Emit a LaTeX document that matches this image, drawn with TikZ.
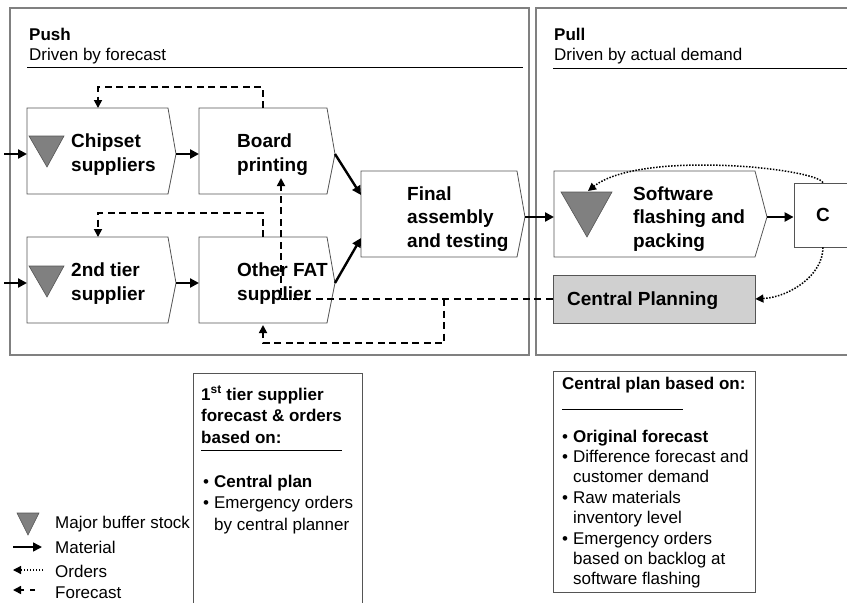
\documentclass[tikz,border=0pt]{standalone}
\usepackage{fontspec}
\setmainfont{Liberation Sans}
\usetikzlibrary{arrows.meta,calc}
\definecolor{framegray}{RGB}{128,128,128}
\definecolor{edgegray}{RGB}{85,85,85}
\definecolor{stockgray}{RGB}{128,128,128}
\definecolor{cpgray}{RGB}{208,208,208}
\newcommand\chevshape[1]{%
  \draw[chev] (#1.north west) -- (#1.north east) -- ($(#1.east)+(8,3)$) coordinate (#1tip)
    -- (#1.south east) -- (#1.south west) -- cycle;}
\begin{document}
\begin{tikzpicture}[x=1pt,y=-1pt,
  frame/.style={draw=framegray,line width=1.4pt},
  body/.style={inner sep=0pt,outer sep=0pt,minimum height=86pt},
  chev/.style={draw=edgegray,line width=0.8pt,fill=white},
  boxtext/.style={anchor=base west,inner sep=0pt,align=left,font=\fontsize{19}{24}\selectfont\bfseries},
  hdr/.style={anchor=base west,inner sep=0pt,font=\fontsize{17}{20}\selectfont\bfseries},
  sub/.style={anchor=base west,inner sep=0pt,font=\fontsize{17}{20}\selectfont},
  rulel/.style={draw=black,line width=1pt},
  note/.style={draw=edgegray,line width=0.9pt},
  stock/.style={draw=edgegray,fill=stockgray,line width=0.6pt},
  mat/.style={line width=2.4pt,-{Triangle[length=9pt,width=9pt]}},
  fc/.style={line width=1.7pt,dash pattern=on 7pt off 4.5pt,-{Triangle[length=8pt,width=8pt]}},
  ord/.style={line width=1.5pt,dash pattern=on 1.5pt off 1.5pt,-{Triangle[length=8pt,width=8pt]}}
]
\useasboundingbox (0,0) rectangle (847,603);
% frames
\draw[frame] (10,8) rectangle (529,355);
\draw[frame] (536,8) rectangle (862,355);
\node[hdr] (pushT) at (29,40) {Push};
\node[sub] (pushS) at (29,60) {Driven by forecast};
\draw[rulel] (27,67) -- (523,67);
\node[hdr] (pullT) at (554,40) {Pull};
\node[sub] (pullS) at (554,60) {Driven by actual demand};
\draw[rulel] (553,68) -- (862,68);
% process boxes
\node[body,minimum width=141pt] (chip) at (97.5,151) {};
\node[body,minimum width=128pt] (board) at (263,151) {};
\node[body,minimum width=141pt] (tier) at (97.5,280) {};
\node[body,minimum width=128pt] (ofat) at (263,280) {};
\node[body,minimum width=156pt] (final) at (439,214) {};
\node[body,minimum width=201pt] (soft) at (654.5,214) {};
\chevshape{chip}
\chevshape{board}
\chevshape{tier}
\chevshape{ofat}
\chevshape{final}
\draw[chev] (soft.north west) -- (soft.north east) -- ($(soft.east)+(12,3)$) coordinate (softtip)
    -- (soft.south east) -- (soft.south west) -- cycle;
\node[draw=edgegray,line width=0.8pt,fill=white,inner sep=0pt,minimum width=58pt,minimum height=64pt,
  font=\fontsize{19}{24}\selectfont\bfseries] (cust) at (823,215) {C};
\node[draw=edgegray,line width=0.8pt,fill=cpgray,inner sep=0pt,minimum width=202pt,minimum height=48pt] (cp) at (654,299) {};
% buffer stock triangles
\draw[stock] (29,136) -- (64,136) -- (47,167) -- cycle;
\draw[stock] (29,266) -- (64,266) -- (47,297) -- cycle;
\draw[stock] (561,192) -- (612,192) -- (587,237) -- cycle;
% box texts (anchor = baseline of last line)
\node[boxtext] (chipT) at (71,171) {Chipset\\suppliers};
\node[boxtext] (boardT) at (237,171) {Board\\printing};
\node[boxtext] (tierT) at (71,300) {2nd tier\\supplier};
\node[boxtext] (ofatT) at (237,300) {Other FAT\\supplier};
\node[boxtext,font=\fontsize{19}{23.5}\selectfont\bfseries] (finalT) at (407,247) {Final\\assembly\\and testing};
\node[boxtext,font=\fontsize{19}{23.5}\selectfont\bfseries] (softT) at (633,247) {Software\\flashing and\\packing};
\node[boxtext] (cpT) at (567,305) {Central Planning};
% material flow
\coordinate (in1) at (4,0);
\coordinate (in2) at (4,0);
\draw[mat] (in1 |- chiptip) -- (chiptip -| chip.west);
\draw[mat] (chiptip) -- (chiptip -| board.west);
\draw[mat] (in2 |- tiertip) -- (tiertip -| tier.west);
\draw[mat] (tiertip) -- (tiertip -| ofat.west);
\draw[mat] (boardtip) -- ($(final.north west)+(0,24)$);
\draw[mat] (ofattip) -- ($(final.south west)+(0,-19)$);
\draw[mat] (finaltip) -- (finaltip -| soft.west);
\draw[mat] (softtip) -- (softtip -| cust.west);
% forecast flow
\draw[fc] (board.north) -- ++(0,-21) -| ($(chip.north west)+(71,0)$);
\draw[fc] (ofat.north) -- ++(0,-24) -| ($(tier.north west)+(71,0)$);
\coordinate (brdin) at (281,178);
\draw[fc] (cp.west) -| (brdin);
\coordinate (split) at (444,299);
\draw[fc] (split) -- ++(0,44) -| ([yshift=-2pt]ofat.south);
% orders flow
\coordinate (stocktop) at (588,191);
\draw[ord] (cust.north) .. controls (815,168) and (640,150) .. (stocktop);
\draw[ord] (cust.south) .. controls (823,275) and (790,297) .. (cp.east);
% note boxes
\draw[note] (193,373) -- (193,612) (193,373) -- (362,373) -- (362,612);
\node[anchor=base west,inner sep=0pt,align=left,font=\fontsize{17}{21.5}\selectfont\bfseries] (t1h) at (201,443)
  {1\textsuperscript{st} tier supplier\\forecast \& orders\\based on:};
\draw[rulel] (201,450) -- (342,450);
\node[anchor=base west,inner sep=0pt,font=\fontsize{17}{21.5}\selectfont] (t1b) at (203,487)
  {\begin{tabular}[t]{@{}l@{\hspace{5pt}}l@{}}\textbullet & \textbf{Central plan}\\ \textbullet & Emergency orders\\ & by central planner\end{tabular}};
\draw[note] (553,371) rectangle (755,592);
\node[anchor=base west,inner sep=0pt,font=\fontsize{17}{20}\selectfont\bfseries] (cph) at (562,389) {Central plan based on:};
\draw[rulel] (562,409) -- (683,409);
\node[anchor=base west,inner sep=0pt,font=\fontsize{17}{20.4}\selectfont] (cpb) at (562,442)
  {\begin{tabular}[t]{@{}l@{\hspace{5pt}}l@{}}\textbullet & \textbf{Original forecast}\\ \textbullet & Difference forecast and\\ & customer demand\\ \textbullet & Raw materials\\ & inventory level\\ \textbullet & Emergency orders\\ & based on backlog at\\ & software flashing\end{tabular}};
% legend
\draw[stock] (17,513) -- (39,513) -- (28,535) -- cycle;
\node[sub] (lg1) at (55,528) {Major buffer stock};
\coordinate (lm1) at (13,547); \coordinate (lm2) at (42,547);
\draw[mat,line width=1.5pt] (lm1) -- (lm2);
\node[sub] (lg2) at (55,553) {Material};
\coordinate (lo1) at (43,570); \coordinate (lo2) at (13,570);
\draw[ord,line width=1.2pt] (lo1) -- (lo2);
\node[sub] (lg3) at (55,577) {Orders};
\coordinate (lf1) at (35,590); \coordinate (lf2) at (13,590);
\draw[fc,line width=1.5pt,dash pattern=on 5pt off 6pt] (lf1) -- (lf2);
\node[sub] (lg4) at (55,598) {Forecast};
\end{tikzpicture}
\end{document}
